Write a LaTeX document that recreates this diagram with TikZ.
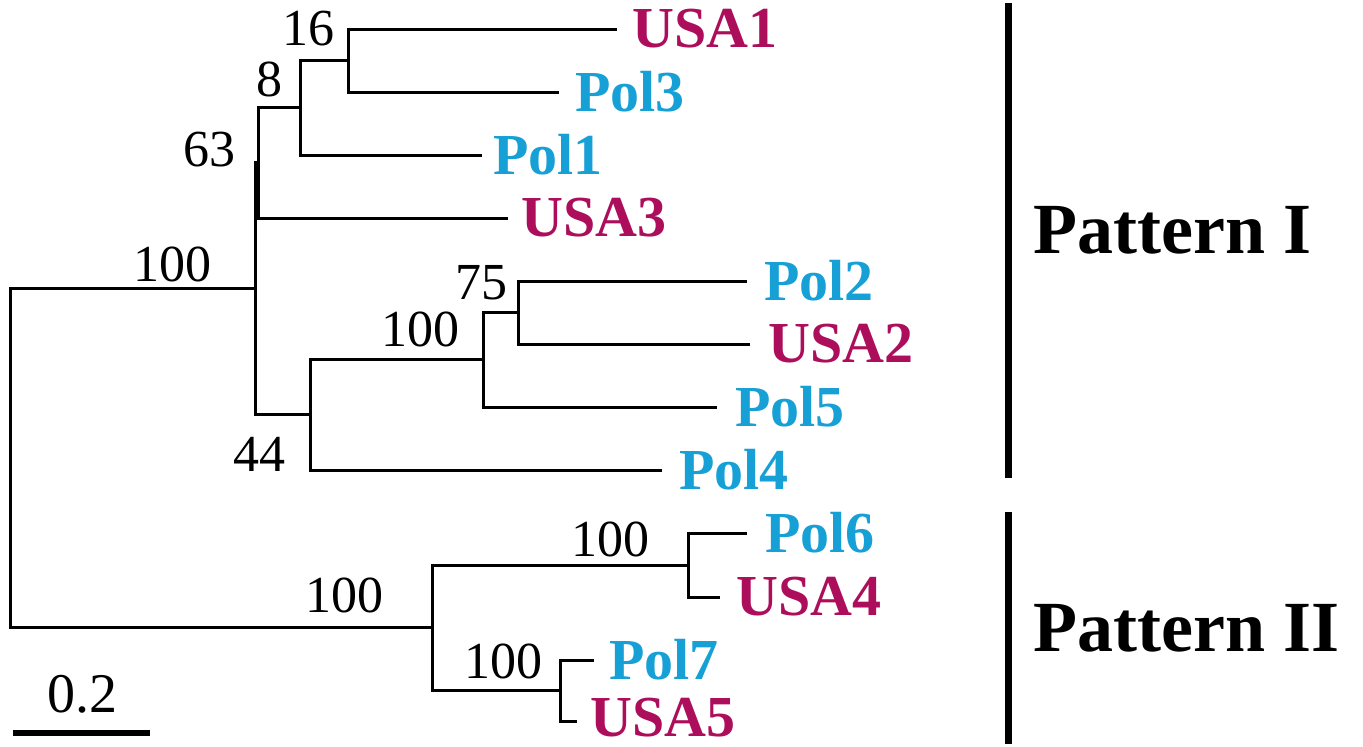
\documentclass[tikz,border=0pt]{standalone}
\usepackage{fontspec}
\setmainfont{Liberation Serif}
\definecolor{usac}{RGB}{172,14,92}
\definecolor{polc}{RGB}{22,160,214}
\begin{document}
\begin{tikzpicture}[x=1pt,y=-1pt,
  br/.style={line width=3pt,line cap=rect},
  leaf/.style={anchor=west,inner sep=0pt,font=\fontsize{58}{60}\selectfont\bfseries},
  usa/.style={leaf,text=usac},
  pol/.style={leaf,text=polc},
  bs/.style={inner sep=0pt,font=\fontsize{52}{54}\selectfont},
  pat/.style={anchor=west,inner sep=0pt,font=\fontsize{72}{74}\selectfont\bfseries},
  bar/.style={line width=7pt}]
\useasboundingbox (0,0) rectangle (1363,747);
% leaf ends
\coordinate (eUSA1) at (615,29);
\coordinate (ePol3) at (557,92);
\coordinate (ePol1) at (480,155);
\coordinate (eUSA3) at (506,218);
\coordinate (ePol2) at (745,281);
\coordinate (eUSA2) at (748,344);
\coordinate (ePol5) at (715,407);
\coordinate (ePol4) at (660,470);
\coordinate (ePol6) at (745,533);
\coordinate (eUSA4) at (718,597);
\coordinate (ePol7) at (592,660);
\coordinate (eUSA5) at (575,721);
% internal nodes
\coordinate (n16) at (348,60.5);
\coordinate (n8) at (300,107.75);
\coordinate (n63) at (258,162.9);
\coordinate (n75) at (518,312.5);
\coordinate (n100b) at (483,359.75);
\coordinate (n44) at (310,414.9);
\coordinate (n100a) at (255,288.9);
\coordinate (n100d) at (688,565);
\coordinate (n100e) at (560,690.5);
\coordinate (n100c) at (432,627.75);
\coordinate (root) at (10,458.3);
% branches
\draw[br] (n16) |- (eUSA1) (n16) |- (ePol3);
\draw[br] (n8) |- (n16) (n8) |- (ePol1);
\draw[br] (n63) |- (n8) (n63) |- (eUSA3);
\draw[br] (n75) |- (ePol2) (n75) |- (eUSA2);
\draw[br] (n100b) |- (n75) (n100b) |- (ePol5);
\draw[br] (n44) |- (n100b) (n44) |- (ePol4);
\draw[br] (n100a) |- (n63) (n100a) |- (n44);
\draw[br] (n100d) |- (ePol6) (n100d) |- (eUSA4);
\draw[br] (n100e) |- (ePol7) (n100e) |- (eUSA5);
\draw[br] (n100c) |- (n100d) (n100c) |- (n100e);
\draw[br] (root) |- (n100a) (root) |- (n100c);
% leaf labels
\node[usa] (USA1) at ([xshift=17pt]eUSA1) {USA1};
\node[pol] (Pol3) at ([xshift=18pt]ePol3) {Pol3};
\node[pol] (Pol1) at ([xshift=13pt]ePol1) {Pol1};
\node[usa] (USA3) at ([xshift=15pt]eUSA3) {USA3};
\node[pol] (Pol2) at ([xshift=19pt]ePol2) {Pol2};
\node[usa] (USA2) at ([xshift=20pt]eUSA2) {USA2};
\node[pol] (Pol5) at ([xshift=20pt]ePol5) {Pol5};
\node[pol] (Pol4) at ([xshift=19pt]ePol4) {Pol4};
\node[pol] (Pol6) at ([xshift=20pt]ePol6) {Pol6};
\node[usa] (USA4) at ([xshift=18pt]eUSA4) {USA4};
\node[pol] (Pol7) at ([xshift=17pt]ePol7) {Pol7};
\node[usa] (USA5) at ([xshift=15pt,yshift=3pt]eUSA5) {USA5};
% bootstrap values
\node[bs] (b16) at (308,29) {16};
\node[bs] (b8) at (269,79) {8};
\node[bs] (b63) at (209,150) {63};
\node[bs] (b100a) at (172,264) {100};
\node[bs] (b75) at (481,283) {75};
\node[bs] (b100b) at (420,329) {100};
\node[bs] (b44) at (259,454) {44};
\node[bs] (b100d) at (610,539) {100};
\node[bs] (b100c) at (344,595) {100};
\node[bs] (b100e) at (503,661) {100};
% scale bar
\coordinate (sb1) at (13,733);
\coordinate (sb2) at (150,733);
\draw[line width=6pt] (sb1) -- (sb2);
\node[inner sep=0pt,font=\fontsize{56}{58}\selectfont] (sbl) at (82,694) {0.2};
% pattern bars
\coordinate (p1t) at (1008,3);
\coordinate (p1b) at (1008,478);
\coordinate (p2t) at (1008,512);
\coordinate (p2b) at (1008,744);
\draw[bar] (p1t) -- (p1b);
\draw[bar] (p2t) -- (p2b);
\node[pat] (pI) at (1033,230) {Pattern I};
\node[pat] (pII) at (1033,628) {Pattern II};
\end{tikzpicture}
\end{document}
